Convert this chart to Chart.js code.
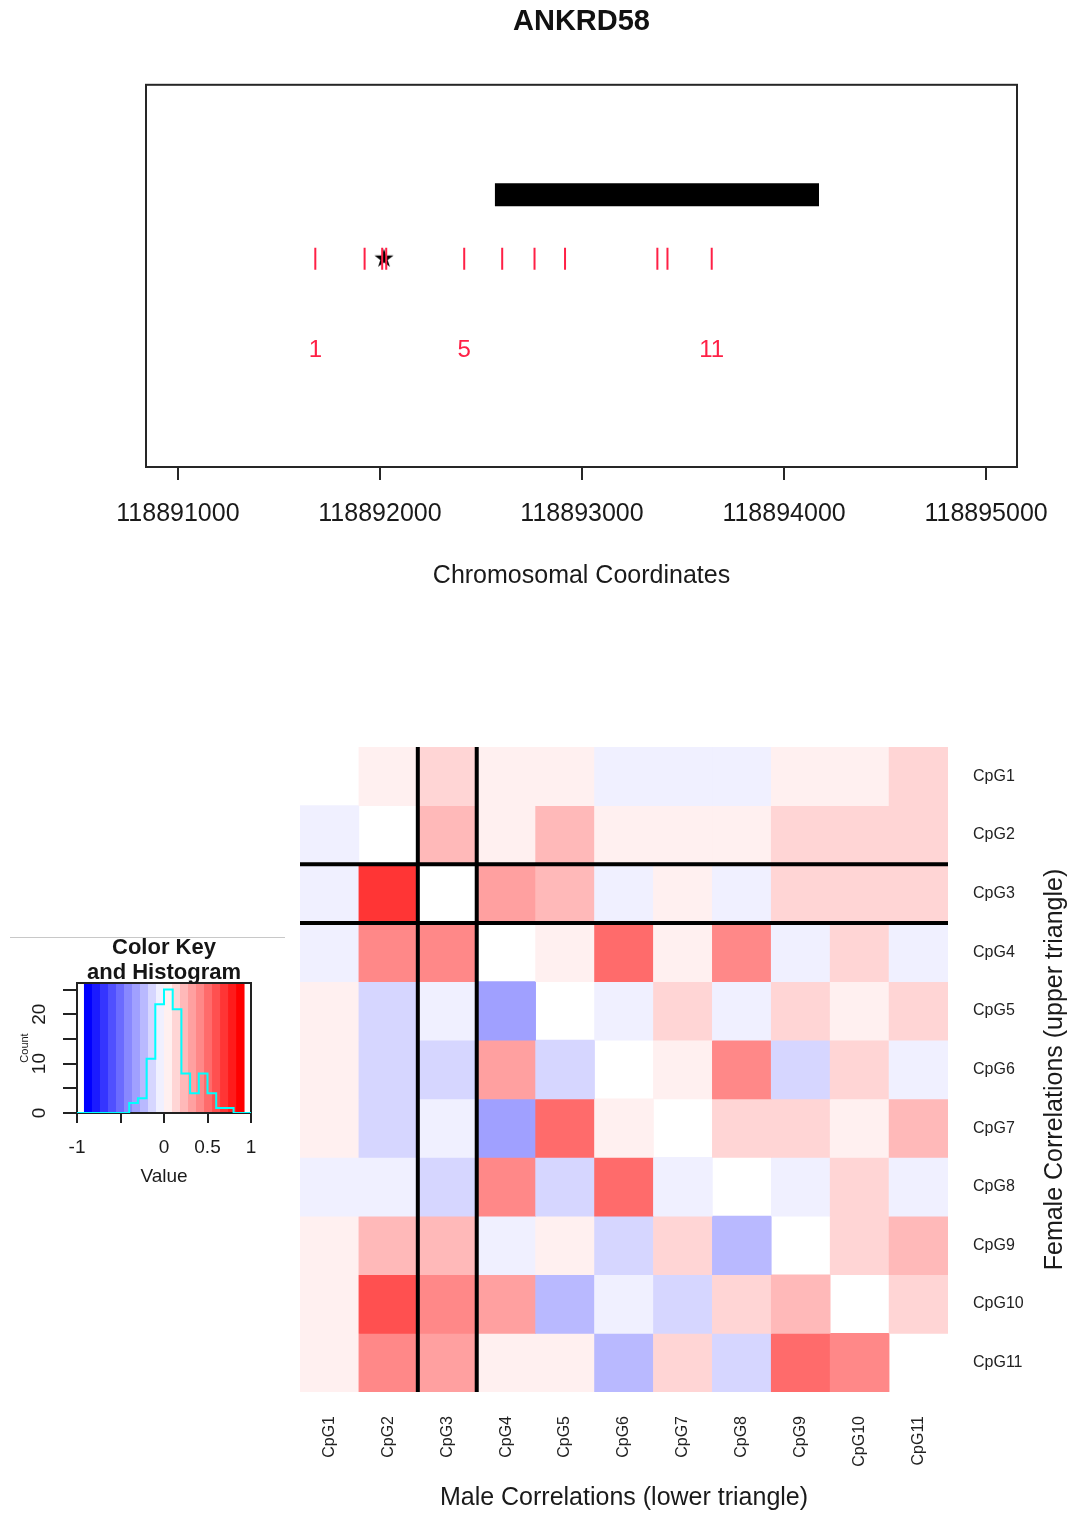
<!DOCTYPE html>
<html>
<head>
<meta charset="utf-8">
<title>ANKRD58 CpG correlations</title>
<script src="https://cdn.jsdelivr.net/npm/chart.js@4/dist/chart.umd.min.js"></script>
<style>
  html, body { margin: 0; padding: 0; background: #fff; }
  body { width: 1071px; height: 1515px; position: relative; overflow: hidden; }
  .panel { position: absolute; }
  #regionPanel { left: 0; top: 0; }
  #heatPanel { left: 0; top: 700px; }
  #keyPanel { left: 0; top: 930px; }
</style>
</head>
<body>
<div class="panel" id="regionPanel"><canvas id="region" width="1071" height="620"></canvas></div>
<div class="panel" id="heatPanel"><canvas id="heat" width="1071" height="815"></canvas></div>
<div class="panel" id="keyPanel"><canvas id="key" width="290" height="270"></canvas></div>
<script>
// ---------- data ----------
const geneName = 'ANKRD58';
const geneStart = 118892569;
const geneEnd = 118894173;
const coordRange = [118890842, 118895153];
const coordTicks = [118891000, 118892000, 118893000, 118894000, 118895000];

const cpgNames = ['CpG1', 'CpG2', 'CpG3', 'CpG4', 'CpG5', 'CpG6', 'CpG7', 'CpG8', 'CpG9', 'CpG10', 'CpG11'];
const cpgPositions = [118891680, 118891924, 118892011, 118892031, 118892417, 118892605,
                      118892765, 118892916, 118893373, 118893423, 118893642];
const starPosition = 118892020;
const labeledCpGs = [1, 5, 11];
const highlightedCpG = 'CpG3';

// correlations: upper triangle = female, lower triangle = male, diagonal blank
const corr = [
  [ null,  0.06,  0.14,  0.04,  0.07, -0.04, -0.06, -0.03,  0.05,  0.08,  0.16],
  [-0.05,  null,  0.27,  0.03,  0.24,  0.06,  0.04,  0.08,  0.13,  0.17,  0.15],
  [-0.07,  0.74,  null,  0.36,  0.22, -0.02,  0.05, -0.08,  0.12,  0.18,  0.14],
  [-0.03,  0.46,  0.43,  null,  0.02,  0.57,  0.09,  0.44, -0.06,  0.11, -0.04],
  [ 0.04, -0.17, -0.05, -0.36,  null, -0.09,  0.16, -0.02,  0.19,  0.06,  0.13],
  [ 0.08, -0.14, -0.12,  0.33, -0.18,  null,  0.03,  0.47, -0.13,  0.15, -0.07],
  [ 0.05, -0.16, -0.04, -0.38,  0.54,  0.07,  null,  0.12,  0.17,  0.02,  0.26],
  [-0.08, -0.01, -0.19,  0.42, -0.11,  0.56, -0.05,  null, -0.03,  0.14, -0.06],
  [ 0.03,  0.23,  0.28, -0.09,  0.06, -0.15,  0.18, -0.27,  null,  0.11,  0.21],
  [ 0.07,  0.64,  0.48,  0.31, -0.24, -0.02, -0.13,  0.16,  0.29,  null,  0.19],
  [ 0.02,  0.41,  0.37,  0.04,  0.09, -0.22,  0.13, -0.16,  0.52,  0.45,  null]
];

// colour key: breaks and blue-white-red palette
const keyBreaks = [-1, -0.9, -0.8, -0.7, -0.6, -0.5, -0.4, -0.3, -0.2, -0.1, 0,
                   0.1, 0.2, 0.3, 0.4, 0.5, 0.6, 0.7, 0.8, 0.9, 1];
const keyColors = ['#0000FF', '#1B1BFF', '#3535FF', '#5050FF', '#6B6BFF', '#8888FF', '#A0A0FF',
                   '#B9B9FF', '#D6D6FF', '#F0F0FF', '#FFF0F0', '#FFD5D5', '#FFB9B9', '#FFA0A0',
                   '#FF8888', '#FF6B6B', '#FF5050', '#FF3535', '#FF1B1B', '#FF0000'];
const keyTicks = [-1, -0.5, 0, 0.5, 1];
const keyTickLabels = ['-1', '', '0', '0.5', '1'];
const countTicks = [0, 5, 10, 15, 20, 25];
const countTickLabels = ['0', '', '10', '', '20', ''];

// ---------- helpers ----------
const FONT = '"Liberation Sans", Arial, sans-serif';
const RED = '#ff2046';
Chart.defaults.font.family = FONT;
Chart.defaults.color = '#1a1a1a';
Chart.defaults.animation = false;
Chart.defaults.plugins.legend.display = false;
Chart.defaults.plugins.tooltip.enabled = false;

function binOf(v) {
  for (let k = 0; k < keyColors.length; k++) {
    if (v >= keyBreaks[k] && v < keyBreaks[k + 1]) return k;
  }
  return keyColors.length - 1;
}
const colorFor = v => keyColors[binOf(v)];

// histogram of all off-diagonal correlations over the key breaks
const histCounts = keyColors.map(() => 0);
corr.forEach(row => row.forEach(v => { if (v !== null) histCounts[binOf(v)]++; }));
// step outline: each count runs from its left break to the next break
const histPoints = histCounts.map((c, k) => ({ x: keyBreaks[k], y: c }))
  .concat([{ x: keyBreaks[keyBreaks.length - 1], y: 0 }]);

// ---------- region plot ----------
const TRACK = { gene: 2.85, cpg: 2.18, label: 1.22 };

const starImg = document.createElement('canvas');
starImg.width = 30; starImg.height = 30;
(() => {
  const c = starImg.getContext('2d');
  c.font = '25px "DejaVu Sans"';
  c.textAlign = 'center';
  c.textBaseline = 'middle';
  c.fillStyle = '#000';
  c.fillText('\u2605', 15, 16);
})();

const frameBox = {
  id: 'frameBox',
  afterDraw(chart, args, opts) {
    const { ctx, chartArea: a } = chart;
    ctx.save();
    ctx.strokeStyle = opts.color || '#222';
    ctx.lineWidth = opts.width || 2;
    ctx.strokeRect(a.left, a.top, a.right - a.left, a.bottom - a.top);
    ctx.restore();
  }
};

const cpgNumbers = {
  id: 'cpgNumbers',
  afterDatasetsDraw(chart) {
    const { ctx, scales: { x, y } } = chart;
    ctx.save();
    ctx.fillStyle = RED;
    ctx.font = '24px ' + FONT;
    ctx.textAlign = 'center';
    ctx.textBaseline = 'middle';
    labeledCpGs.forEach(n => {
      ctx.fillText(String(n), x.getPixelForValue(cpgPositions[n - 1]), y.getPixelForValue(TRACK.label));
    });
    ctx.restore();
  }
};

new Chart(document.getElementById('region'), {
  type: 'scatter',
  data: {
    datasets: [
      {
        type: 'line',
        label: 'gene',
        data: [{ x: geneStart, y: TRACK.gene }, { x: geneEnd, y: TRACK.gene }],
        borderColor: '#000',
        borderWidth: 23,
        borderCapStyle: 'butt',
        pointRadius: 0,
        fill: false
      },
      {
        label: 'CpG sites',
        data: cpgPositions.map(p => ({ x: p, y: TRACK.cpg })),
        pointStyle: 'line',
        rotation: 90,
        radius: 11,
        borderColor: RED,
        borderWidth: 2
      },
      {
        label: 'marker',
        data: [{ x: starPosition, y: TRACK.cpg }],
        pointStyle: starImg
      }
    ]
  },
  options: {
    responsive: false,
    devicePixelRatio: 1,
    layout: { padding: { left: 146, right: 54, top: 0, bottom: 0 } },
    plugins: {
      title: {
        display: true,
        text: geneName,
        fullSize: false,
        color: '#111',
        font: { size: 29, weight: 'bold' },
        padding: { top: 5, bottom: 45 }
      },
      frameBox: { color: '#262626', width: 2 }
    },
    scales: {
      x: {
        type: 'linear',
        min: coordRange[0],
        max: coordRange[1],
        afterBuildTicks: s => { s.ticks = coordTicks.map(v => ({ value: v })); },
        afterFit: s => { s.height = 153; },
        grid: { drawOnChartArea: false, drawTicks: true, tickLength: 13, color: '#262626', lineWidth: 2 },
        border: { display: false },
        ticks: { callback: v => String(v), font: { size: 25 }, color: '#1a1a1a', padding: 19, maxRotation: 0, autoSkip: false },
        title: { display: true, text: 'Chromosomal Coordinates', font: { size: 25 }, color: '#1a1a1a', padding: { top: 0, bottom: 29 } }
      },
      y: { display: false, min: 0, max: 4 }
    }
  },
  plugins: [frameBox, cpgNumbers]
});

// ---------- heatmap ----------
const highlightLines = {
  id: 'highlightLines',
  afterDatasetsDraw(chart) {
    const { ctx, chartArea: a, scales: { x, y } } = chart;
    const k = cpgNames.indexOf(highlightedCpG);
    const half = (x.getPixelForValue(1) - x.getPixelForValue(0)) / 2;
    const xc = x.getPixelForValue(k);
    ctx.save();
    ctx.strokeStyle = '#000';
    ctx.lineWidth = 4;
    ctx.beginPath();
    [xc - half, xc + half].forEach(px => { ctx.moveTo(px, a.top); ctx.lineTo(px, a.bottom); });
    [y.getPixelForValue(k), y.getPixelForValue(k + 1)].forEach(py => { ctx.moveTo(a.left, py); ctx.lineTo(a.right, py); });
    ctx.stroke();
    ctx.restore();
  }
};

const sideTitle = {
  id: 'sideTitle',
  afterDraw(chart) {
    const { ctx, chartArea: a } = chart;
    ctx.save();
    ctx.translate(a.right + 107, (a.top + a.bottom) / 2);
    ctx.rotate(-Math.PI / 2);
    ctx.fillStyle = '#1a1a1a';
    ctx.font = '25px ' + FONT;
    ctx.textAlign = 'center';
    ctx.textBaseline = 'middle';
    ctx.fillText('Female Correlations (upper triangle)', 0, 0);
    ctx.restore();
  }
};

new Chart(document.getElementById('heat'), {
  type: 'bar',
  data: {
    labels: cpgNames,
    datasets: corr.map((row, i) => ({
      label: cpgNames[i],
      data: row.map(v => (v === null ? null : [i, i + 1])),
      backgroundColor: row.map(v => (v === null ? 'rgba(0,0,0,0)' : colorFor(v))),
      borderWidth: 0,
      grouped: false,
      barPercentage: 1,
      categoryPercentage: 1
    }))
  },
  options: {
    responsive: false,
    devicePixelRatio: 1,
    layout: { padding: { left: 300, top: 47, right: 0, bottom: 0 } },
    scales: {
      x: {
        type: 'category',
        afterFit: s => { s.height = 123; },
        grid: { display: false, drawTicks: false },
        border: { display: false },
        ticks: { font: { size: 16 }, color: '#222', minRotation: 90, maxRotation: 90, autoSkip: false, padding: 24 },
        title: { display: true, text: 'Male Correlations (lower triangle)', font: { size: 25 }, color: '#1a1a1a', padding: { top: 0, bottom: 2 } }
      },
      y: {
        type: 'linear',
        position: 'right',
        reverse: true,
        min: 0,
        max: cpgNames.length,
        afterBuildTicks: s => { s.ticks = cpgNames.map((_, i) => ({ value: i + 0.5 })); },
        afterFit: s => { s.width = 123; },
        grid: { display: false, drawTicks: false },
        border: { display: false },
        ticks: { callback: (v, idx) => cpgNames[idx], font: { size: 16 }, color: '#222', padding: 25, autoSkip: false }
      }
    }
  },
  plugins: [highlightLines, sideTitle]
});

// ---------- colour key and histogram ----------
const KEY_SPAN = 0.92;
const keyDecor = {
  id: 'keyDecor',
  beforeDraw(chart) {
    const { ctx } = chart;
    ctx.save();
    ctx.strokeStyle = '#c8c8c8';
    ctx.lineWidth = 1;
    ctx.beginPath();
    ctx.moveTo(10, 7.5);
    ctx.lineTo(285, 7.5);
    ctx.stroke();
    ctx.restore();
  },
  beforeDatasetsDraw(chart) {
    const { ctx, chartArea: a, scales: { x } } = chart;
    ctx.save();
    keyColors.forEach((c, k) => {
      const x0 = x.getPixelForValue(keyBreaks[k] * KEY_SPAN);
      const x1 = x.getPixelForValue(keyBreaks[k + 1] * KEY_SPAN);
      ctx.fillStyle = c;
      ctx.fillRect(x0, a.top, x1 - x0 + 0.5, a.bottom - a.top);
    });
    ctx.strokeStyle = '#222';
    ctx.lineWidth = 2;
    ctx.strokeRect(a.left, a.top, a.right - a.left, a.bottom - a.top);
    ctx.restore();
  },
  afterDraw(chart) {
    const { ctx, chartArea: a } = chart;
    const cx = (a.left + a.right) / 2;
    ctx.save();
    ctx.fillStyle = '#151515';
    ctx.font = 'bold 22px ' + FONT;
    ctx.textAlign = 'center';
    ctx.textBaseline = 'middle';
    ctx.fillText('Color Key', cx, a.top - 35);
    ctx.fillText('and Histogram', cx, a.top - 10);
    ctx.restore();
  }
};

new Chart(document.getElementById('key'), {
  type: 'line',
  data: {
    datasets: [{
      label: 'Count',
      data: histPoints,
      stepped: 'before',
      borderColor: '#00FFFF',
      borderWidth: 2,
      pointRadius: 0,
      fill: false
    }]
  },
  options: {
    responsive: false,
    devicePixelRatio: 1,
    layout: { padding: { left: 0, top: 53, right: 39, bottom: 0 } },
    scales: {
      x: {
        type: 'linear',
        min: -1,
        max: 1,
        afterBuildTicks: s => { s.ticks = keyTicks.map(v => ({ value: v })); },
        afterFit: s => { s.height = 87; },
        grid: { drawOnChartArea: false, drawTicks: true, tickLength: 10, color: '#222', lineWidth: 2 },
        border: { display: false },
        ticks: { callback: (v, idx) => keyTickLabels[idx], font: { size: 19 }, color: '#1a1a1a', padding: 13, maxRotation: 0, autoSkip: false },
        title: { display: true, text: 'Value', font: { size: 19 }, color: '#1a1a1a', padding: { top: 0, bottom: 12 } }
      },
      y: {
        type: 'linear',
        min: 0,
        max: Math.max(...histCounts) / 0.95,
        afterBuildTicks: s => { s.ticks = countTicks.map(v => ({ value: v })); },
        afterFit: s => { s.width = 77; },
        grid: { drawOnChartArea: false, drawTicks: true, tickLength: 14, color: '#222', lineWidth: 2 },
        border: { display: false },
        ticks: { callback: (v, idx) => countTickLabels[idx], font: { size: 19 }, color: '#1a1a1a', padding: 13, minRotation: 90, maxRotation: 90, crossAlign: 'center', autoSkip: false },
        title: { display: true, text: 'Count', font: { size: 11 }, color: '#1a1a1a', padding: { top: 18, bottom: 0 } }
      }
    }
  },
  plugins: [keyDecor]
});
</script>
</body>
</html>
